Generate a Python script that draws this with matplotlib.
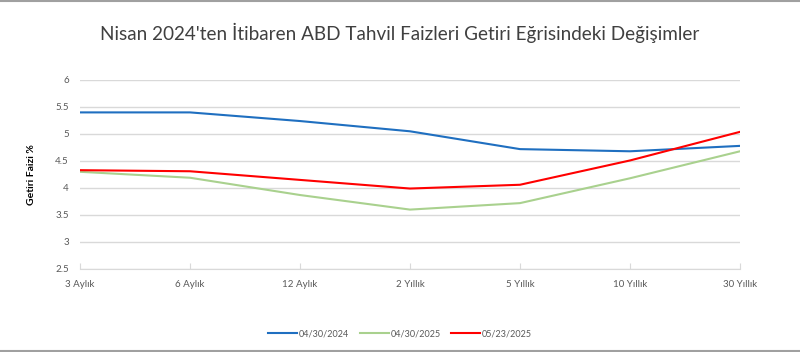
import matplotlib.pyplot as plt
from matplotlib.lines import Line2D

plt.rcParams['font.family'] = ['Lato', 'DejaVu Sans']

vadeler = ["3 Aylık", "6 Aylık", "12 Aylık", "2 Yıllık", "5 Yıllık", "10 Yıllık", "30 Yıllık"]
f_2024_04_30 = [5.40, 5.40, 5.24, 5.05, 4.72, 4.68, 4.78]
f_2025_04_30 = [4.30, 4.19, 3.87, 3.60, 3.72, 4.18, 4.68]
f_2025_05_23 = [4.33, 4.31, 4.15, 3.99, 4.06, 4.51, 5.04]
etiketler = ["04/30/2024", "04/30/2025", "05/23/2025"]
renkler = ["#1f6fc0", "#a9d18e", "#ff0000"]

fig = plt.figure(figsize=(8, 3.52), dpi=100)
ax = fig.add_axes([0.1, 1 - 269 / 352, 0.825, 189 / 352])

x = list(range(len(vadeler)))
for seri, lbl, c in zip([f_2024_04_30, f_2025_04_30, f_2025_05_23], etiketler, renkler):
    ax.plot(x, seri, color=c, lw=1.5, label=lbl)

ax.set_ylim(2.5, 6)
ax.set_yticks([2.5, 3, 3.5, 4, 4.5, 5, 5.5, 6])
ax.set_yticklabels(["2.5", "3", "3.5", "4", "4.5", "5", "5.5", "6"])
ax.set_xlim(0, len(vadeler) - 1)
ax.set_xticks(x)
ax.set_xticklabels(vadeler)
ax.grid(axis='y', color='#d9d9d9', lw=1)
ax.set_axisbelow(True)
for s in ['top', 'right', 'left']:
    ax.spines[s].set_visible(False)
ax.spines['bottom'].set_color('#d9d9d9')
ax.tick_params(axis='y', length=0, labelsize=7, colors='#595959', pad=8)
ax.tick_params(axis='x', direction='in', length=4, color='#d9d9d9', labelsize=7, labelcolor='#595959', pad=8)

ax.set_ylabel("Getiri Faizi %", fontsize=7.5, fontweight='bold', labelpad=14)

fig.text(0.5, 1 - 33 / 352, "Nisan 2024'ten İtibaren ABD Tahvil Faizleri Getiri Eğrisindeki Değişimler",
         ha='center', va='center', fontsize=13.6, color='#404040')

fig.legend(loc='center', bbox_to_anchor=(0.5, 1 - 334 / 352), ncol=3, frameon=False,
           fontsize=6.5, handlelength=3.2, columnspacing=1.2, handletextpad=0.2,
           labelcolor='#595959')

fig.add_artist(Line2D([0, 1], [0.998, 0.998], color='#a0a0a0', lw=1.5, transform=fig.transFigure))
fig.add_artist(Line2D([0, 1], [0.004, 0.004], color='#a0a0a0', lw=1.5, transform=fig.transFigure))

fig.savefig("out.png", dpi=100)
